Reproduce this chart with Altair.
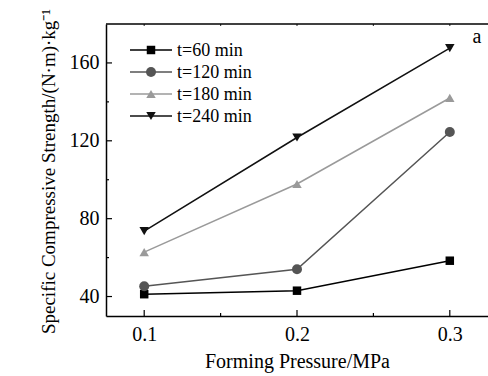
import altair as alt
import pandas as pd

pressure = [0.1, 0.2, 0.3]
series = ["t=60 min", "t=120 min", "t=180 min", "t=240 min"]
t60 = [41.2, 43.0, 58.4]
t120 = [45.3, 54.0, 124.5]
t180 = [62.8, 97.8, 142.0]
t240 = [73.6, 121.7, 167.6]
colors = ["#000000", "#555555", "#9a9a9a", "#111111"]
marker_shapes = ["square", "circle", "triangle-up", "triangle-down"]
marker_sizes = [72, 100, 90, 90]
y_major = [40, 80, 120, 160]
y_minor = [60, 100, 140]
x_major = [0.1, 0.2, 0.3]
x_minor = [0.15, 0.25]

rows = []
for name, vals in zip(series, [t60, t120, t180, t240]):
    for p, v in zip(pressure, vals):
        rows.append({"pressure": p, "value": v, "series": name})
df = pd.DataFrame(rows)

FONT = "Liberation Serif"
W, H = 382, 292
xs = alt.Scale(domain=[0.075, 0.325], nice=False, zero=False)
ys = alt.Scale(domain=[30, 180], nice=False, zero=False)
cs = alt.Scale(domain=series, range=colors)

base = alt.Chart(df)

xaxis = alt.Axis(values=x_major, format=".1f", ticks=False, tickSize=0, domain=True,
                 domainColor="black", domainWidth=1.5,
                 grid=False, labelFont=FONT, labelFontSize=20, labelColor="black",
                 labelPadding=8, title="Forming Pressure/MPa", titleFont=FONT,
                 titleFontSize=20, titleFontWeight="normal", titleColor="black",
                 titleX=191, titleY=51, titleBaseline="alphabetic", titleAnchor="middle")
yaxis = alt.Axis(values=y_major, ticks=False, tickSize=0, domain=True,
                 domainColor="black", domainWidth=1.5, grid=False,
                 labelFont=FONT, labelFontSize=20, labelColor="black", labelPadding=7,
                 title="Specific Compressive Strength/(N·m)·kg⁻¹", titleFont=FONT,
                 titleFontSize=19, titleFontWeight="normal", titleColor="black",
                 titleX=-58, titleY=147, titleBaseline="middle", titleAnchor="middle")

X = alt.X("pressure:Q", scale=xs, axis=xaxis)
Y = alt.Y("value:Q", scale=ys, axis=yaxis)

lines = base.mark_line(strokeWidth=1.5).encode(
    x=X, y=Y,
    color=alt.Color("series:N", scale=cs, legend=None),
    detail="series:N",
)

point_layers = []
for name, shp, sz in zip(series, marker_shapes, marker_sizes):
    point_layers.append(
        base.transform_filter(alt.datum.series == name)
        .mark_point(filled=True, shape=shp, size=sz, opacity=1)
        .encode(x=X, y=Y, color=alt.Color("series:N", scale=cs, legend=None))
    )

# legend (drawn inside the plot, upper left)
legend_layers = []
for i, (name, col, shp, sz) in enumerate(zip(series, colors, marker_shapes, marker_sizes)):
    ly = 26 + 22 * i
    ldf = pd.DataFrame({"label": [name]})
    legend_layers.append(
        alt.Chart(ldf).mark_rule(color=col, strokeWidth=1.5).encode(
            x=alt.value(24), x2=alt.value(66), y=alt.value(ly))
    )
    legend_layers.append(
        alt.Chart(ldf).mark_point(filled=True, shape=shp, size=sz, color=col, opacity=1).encode(
            x=alt.value(45), y=alt.value(ly))
    )
    legend_layers.append(
        alt.Chart(ldf).mark_text(font=FONT, fontSize=18, color="black", align="left",
                                 baseline="middle").encode(
            text="label:N", x=alt.value(71), y=alt.value(ly + 1))
    )

YT = lambda: alt.Y("v:Q", scale=ys, axis=yaxis)
XT = lambda: alt.X("v:Q", scale=xs, axis=xaxis)

ymaj = alt.Chart(pd.DataFrame({"v": y_major})).mark_rule(color="black", strokeWidth=1.2).encode(
    y=YT(), x=alt.value(0), x2=alt.value(6))
ymin = alt.Chart(pd.DataFrame({"v": y_minor})).mark_rule(color="black", strokeWidth=1.2).encode(
    y=YT(), x=alt.value(0), x2=alt.value(3))
xmaj = alt.Chart(pd.DataFrame({"v": x_major})).mark_rule(color="black", strokeWidth=1.2).encode(
    x=XT(), y=alt.value(H), y2=alt.value(H - 6))
xmin = alt.Chart(pd.DataFrame({"v": x_minor})).mark_rule(color="black", strokeWidth=1.2).encode(
    x=XT(), y=alt.value(H), y2=alt.value(H - 3))
xtop = alt.Chart(pd.DataFrame({"v": x_major + x_minor})).mark_rule(color="#444", strokeWidth=1.2).encode(
    x=XT(), y=alt.value(0), y2=alt.value(2))
topline = alt.Chart(pd.DataFrame({"v": [0]})).mark_rule(color="black", strokeWidth=1.5).encode(
    x=alt.value(0), x2=alt.value(W), y=alt.value(0))

label_a = alt.Chart(pd.DataFrame({"t": ["a"]})).mark_text(
    font=FONT, fontSize=20, color="black", align="center", baseline="alphabetic"
).encode(text="t:N", x=alt.value(371), y=alt.value(19))

chart = alt.layer(
    lines, *point_layers, ymaj, ymin, xmaj, xmin, xtop, topline, label_a, *legend_layers
).properties(
    width=W, height=H,
    autosize=alt.AutoSizeParams(type="none"),
    padding={"left": 106, "top": 24, "right": 0, "bottom": 60},
).configure(background="white").configure_view(stroke=None)

chart.save("out.html", embed_options={"renderer": "svg", "actions": False})
